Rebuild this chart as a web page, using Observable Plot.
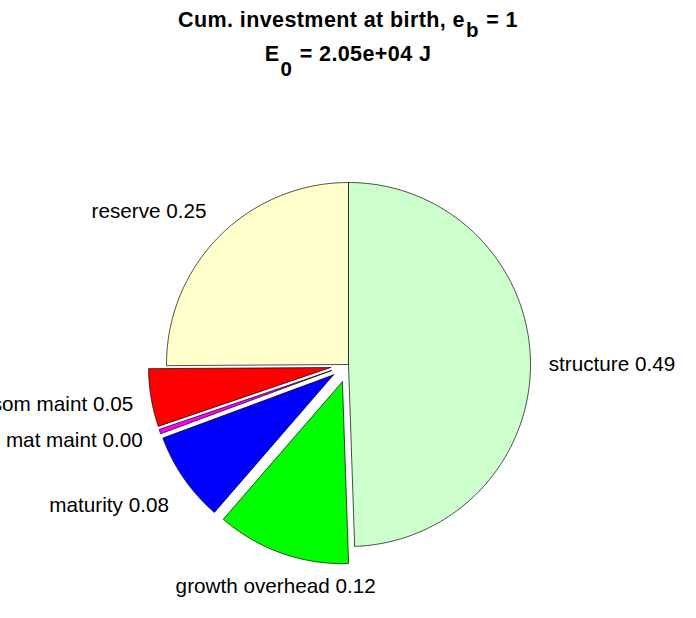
<!DOCTYPE html>
<html>
<head>
<meta charset="utf-8">
<script src="https://cdn.jsdelivr.net/npm/d3@7"></script>
<script src="https://cdn.jsdelivr.net/npm/@observablehq/plot@0.6"></script>
<style>
  html, body { margin: 0; padding: 0; background: #fff; }
  #wrap { width: 696px; height: 618px; position: relative; font-family: "Liberation Sans", Arial, sans-serif; }
  #title { position: relative; width: 696px; height: 80px; font-weight: bold; font-size: 21.5px; color: #000; letter-spacing: 0.4px; }
  #title .ln { position: absolute; left: 0; width: 696px; text-align: center; line-height: 21.5px; white-space: nowrap; }
  #title .sub { position: relative; font-size: 20.5px; margin-left: 1px; margin-right: 1px; }
  svg { display: block; }
</style>
</head>
<body>
<div id="wrap">
  <div id="title">
    <div class="ln" style="top:9px">Cum. investment at birth, e<span class="sub" style="top:10px">b</span> = 1</div>
    <div class="ln" style="top:43px">E<span class="sub" style="top:15px">0</span> = 2.05e+04 J</div>
  </div>
  <div id="chart"></div>
</div>
<script>
// Data (counter-clockwise from 12 o'clock, as MATLAB pie draws)
const names   = ["reserve", "som maint", "mat maint", "maturity", "growth overhead", "structure"];
const values  = [0.251, 0.0514, 0.004, 0.080, 0.119, 0.4946];
const explode = [0, 1, 1, 1, 1, 0];
const colors  = ["#FFFFCC", "#FF0000", "#FF00FF", "#0000FF", "#00FF00", "#CCFFCC"];

// layout
const W = 696, H = 538, R = 182, CX = 348, CY = 284;
const total = d3.sum(values);

let a0 = Math.PI / 2;
const slices = names.map((name, i) => {
  const span = values[i] / total * 2 * Math.PI;
  const s = a0, e = a0 + span;
  a0 = e;
  const mid = (s + e) / 2;
  const ox = 0.1 * explode[i] * Math.cos(mid);
  const oy = 0.1 * explode[i] * Math.sin(mid);
  const n = Math.max(2, Math.ceil(span / (Math.PI / 360)));
  const pts = [{x: ox, y: oy}];
  for (let k = 0; k <= n; k++) {
    const t = s + (e - s) * k / n;
    pts.push({x: ox + Math.cos(t), y: oy + Math.sin(t)});
  }
  pts.push({x: ox, y: oy});
  const c = Math.cos(mid), sn = Math.sin(mid);
  return {
    name, value: values[i], color: colors[i], pts,
    lx: ox + 1.1 * c, ly: oy + 1.1 * sn,
    label: name + " " + values[i].toFixed(2),
    h: Math.abs(c) < 0.5 ? "middle" : (c < 0 ? "end" : "start"),
    v: sn > 0.5 ? "bottom" : (sn < -0.5 ? "top" : "middle")
  };
});

const dyFor = {top: 8, middle: 3, bottom: -5};
const labelMarks = [];
for (const h of ["start", "middle", "end"]) {
  for (const v of ["top", "middle", "bottom"]) {
    const sub = slices.filter(d => d.h === h && d.v === v);
    if (!sub.length) continue;
    labelMarks.push(Plot.text(sub, {
      x: "lx", y: "ly", text: "label",
      textAnchor: h, lineAnchor: v, dy: dyFor[v],
      fontSize: 20.7, fill: "#000",
      fontFamily: "Liberation Sans, Arial, sans-serif"
    }));
  }
}

const chart = Plot.plot({
  width: W, height: H,
  marginTop: 0, marginRight: 0, marginBottom: 0, marginLeft: 0,
  style: {overflow: "visible", background: "#fff"},
  x: {domain: [-CX / R, (W - CX) / R], range: [0, W], axis: null},
  y: {domain: [-(H - CY) / R, CY / R], range: [H, 0], axis: null},
  marks: [
    ...slices.map(s => Plot.line(s.pts, {
      x: "x", y: "y", curve: "linear",
      fill: s.color, stroke: "#000", strokeWidth: 0.7, strokeLinejoin: "miter"
    })),
    ...labelMarks
  ]
});
document.getElementById("chart").appendChild(chart);
</script>
</body>
</html>
